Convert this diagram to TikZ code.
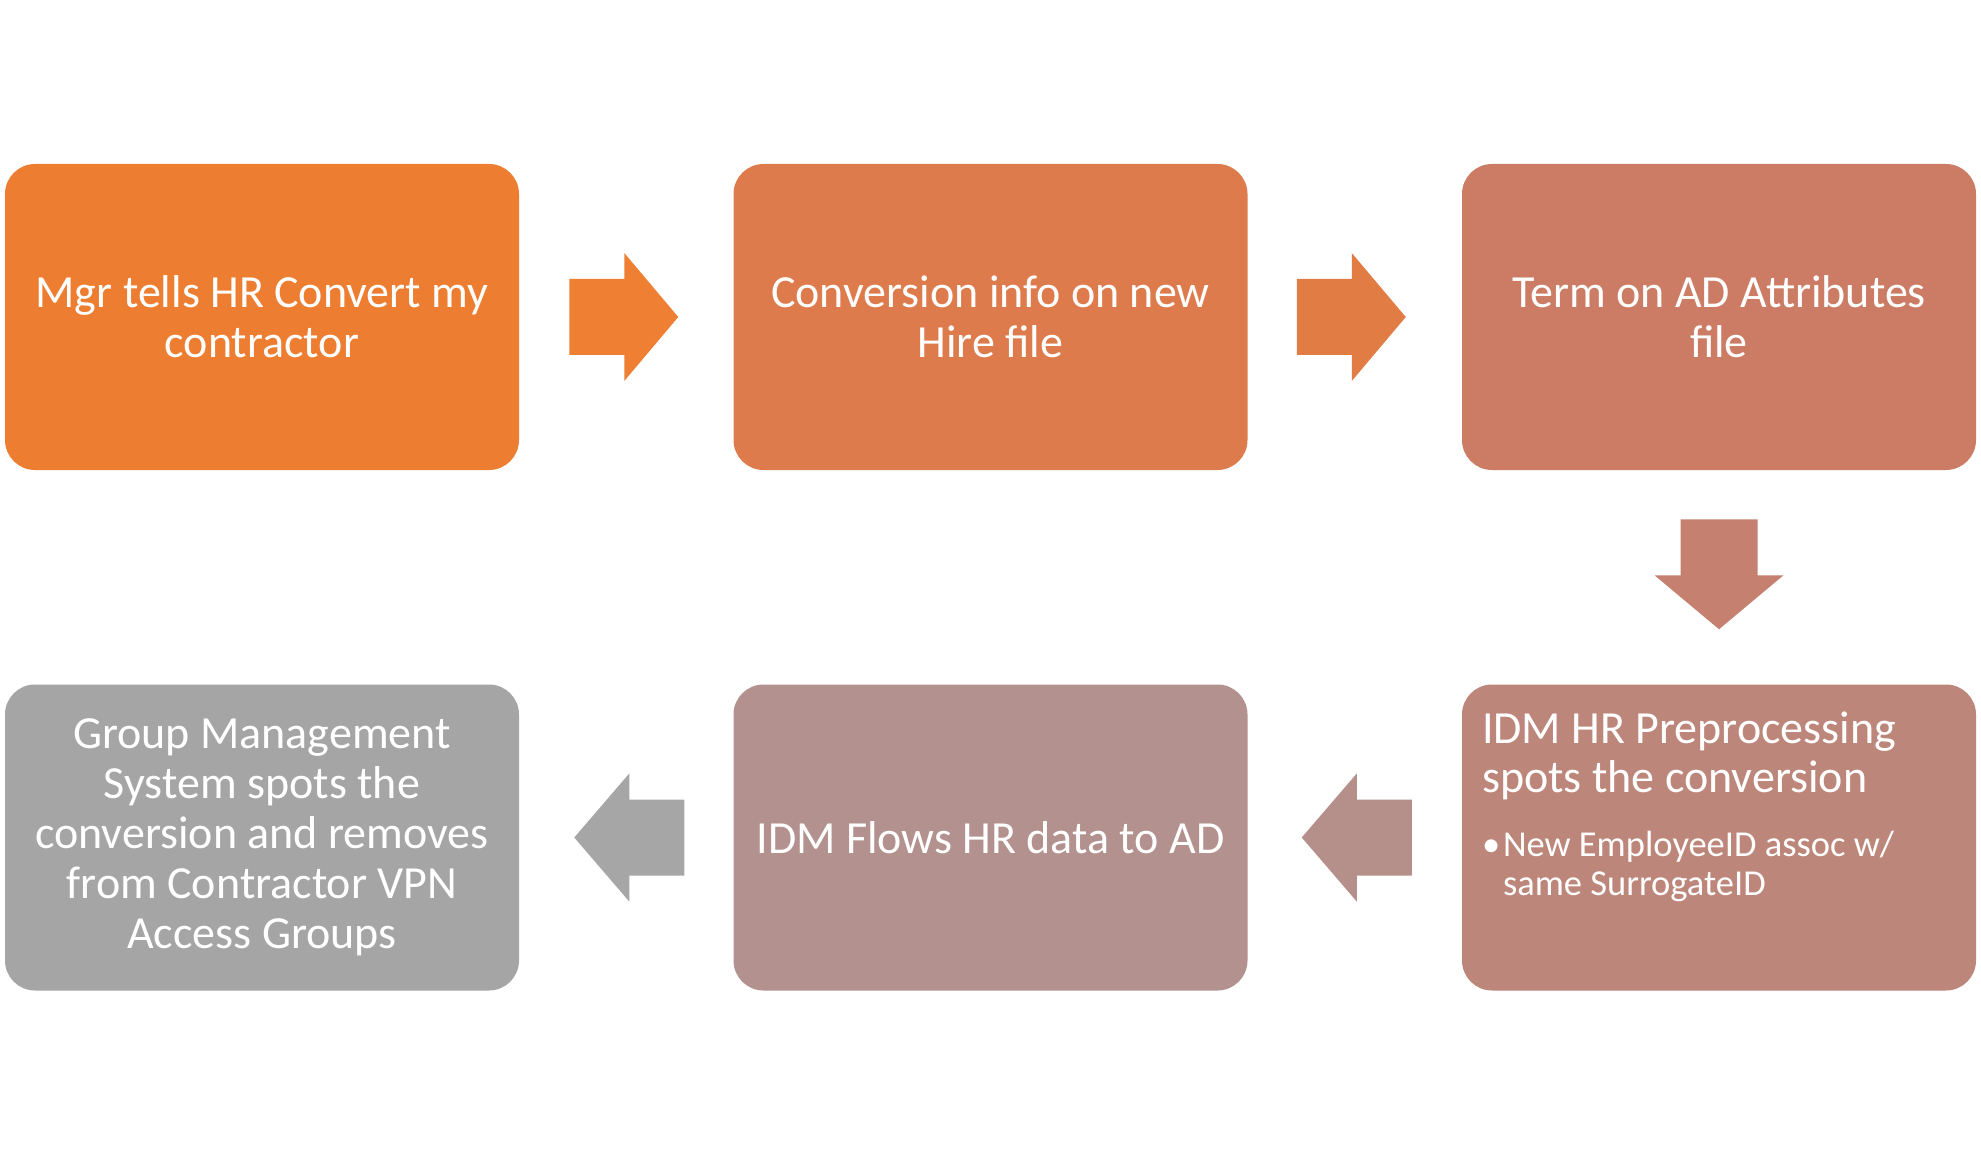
\documentclass[tikz,border=0pt]{standalone}
\usepackage{fontspec}
\setmainfont{Carlito}
\usetikzlibrary{calc}
\definecolor{c1}{HTML}{ED7D31}
\definecolor{c2}{HTML}{DE7B4C}
\definecolor{c3}{HTML}{CC7C64}
\definecolor{c4}{HTML}{BD867A}
\definecolor{c5}{HTML}{B2918E}
\definecolor{c6}{HTML}{A5A5A5}
\definecolor{a1}{HTML}{EE7F33}
\definecolor{a2}{HTML}{E17C44}
\definecolor{a3}{HTML}{C58070}
\definecolor{a4}{HTML}{B58F89}
\definecolor{a5}{HTML}{A6A6A6}
\begin{document}
\begin{tikzpicture}[x=1pt,y=-1pt,
  box/.style={rectangle, rounded corners=30pt, minimum width=514pt, minimum height=306pt,
    inner sep=0pt, text=white, align=center, font=\fontsize{46}{50}\selectfont}]
\useasboundingbox[fill=white] (0,0) rectangle (1981,1155);
% boxes
\node[box, fill=c1] (b1) at (262,317) {Mgr tells HR Convert my\\contractor};
\node[box, fill=c2] (b2) at (990.5,317) {Conversion info on new\\Hire file};
\node[box, fill=c3] (b3) at (1719,317) {Term on AD Attributes\\file};
\node[box, fill=c4] (b4) at (1719,837.5) {};
\node[box, fill=c5] (b5) at (990.5,837.5) {IDM Flows HR data to AD};
\node[box, fill=c6] (b6) at (262,837.5) {Group Management\\System spots the\\conversion and removes\\from Contractor VPN\\Access Groups};
% text of box 4
\node[anchor=north west, inner sep=0pt, text width=490pt, align=left, text=white,
      font=\fontsize{46}{49}\selectfont] (t4) at ($(b4.north west)+(20,27)$)
  {\spaceskip=0pt\xspaceskip=0pt IDM HR Preprocessing\\spots the conversion\par
   \vspace{25pt}\fontsize{36.5}{39}\selectfont\spaceskip=0pt\xspaceskip=0pt
   \makebox[21pt][l]{\textbullet}New EmployeeID assoc w/\\\hspace*{21pt}same SurrogateID\par};
% connector mid points
\coordinate (m12) at ($(b1.east)!0.5!(b2.west)$);
\coordinate (m23) at ($(b2.east)!0.5!(b3.west)$);
\coordinate (m34) at ($(b3.south)!0.5!(b4.north)$);
\coordinate (m45) at ($(b5.east)!0.5!(b4.west)$);
\coordinate (m56) at ($(b6.east)!0.5!(b5.west)$);
% right arrows
\fill[a1] ($(m12)+(-57,-38)$) -- ($(m12)+(-2,-38)$) -- ($(m12)+(-2,-64)$) -- ($(m12)+(52,0)$)
  -- ($(m12)+(-2,64)$) -- ($(m12)+(-2,38)$) -- ($(m12)+(-57,38)$) -- cycle;
\fill[a2] ($(m23)+(-58,-38)$) -- ($(m23)+(-3,-38)$) -- ($(m23)+(-3,-64)$) -- ($(m23)+(51,0)$)
  -- ($(m23)+(-3,64)$) -- ($(m23)+(-3,38)$) -- ($(m23)+(-58,38)$) -- cycle;
% down arrow
\fill[a3] ($(m34)+(-38.5,-58)$) -- ($(m34)+(-38.5,-2)$) -- ($(m34)+(-64.5,-2)$) -- ($(m34)+(0,52)$)
  -- ($(m34)+(64.5,-2)$) -- ($(m34)+(38.5,-2)$) -- ($(m34)+(38.5,-58)$) -- cycle;
% left arrows
\fill[a4] ($(m45)+(57,-38)$) -- ($(m45)+(2,-38)$) -- ($(m45)+(2,-64)$) -- ($(m45)+(-53,0)$)
  -- ($(m45)+(2,64)$) -- ($(m45)+(2,38)$) -- ($(m45)+(57,38)$) -- cycle;
\fill[a5] ($(m56)+(58,-38)$) -- ($(m56)+(3,-38)$) -- ($(m56)+(3,-64)$) -- ($(m56)+(-52,0)$)
  -- ($(m56)+(3,64)$) -- ($(m56)+(3,38)$) -- ($(m56)+(58,38)$) -- cycle;
\end{tikzpicture}
\end{document}
